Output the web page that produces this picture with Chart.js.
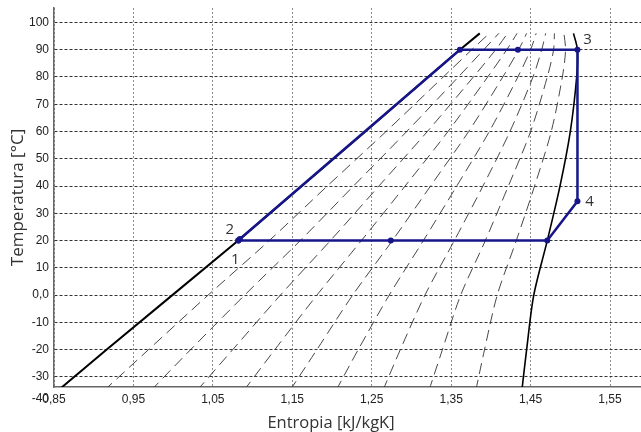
<!DOCTYPE html>
<html lang="it">
<head>
<meta charset="UTF-8">
<title>Diagramma T-s</title>
<script src="https://cdn.jsdelivr.net/npm/chart.js"></script>
<style>
  html, body { margin: 0; background: #fff; overflow: hidden; }
  canvas { display: block; }
</style>
</head>
<body>
<!-- 4px in più a destra: Chart.js lascia un margine, la finestra lo taglia -->
<canvas id="ts-chart" width="645" height="432"></canvas>
<script>
// livelli di temperatura [°C] ai quali sono letti i punti delle curve
const tLevels = [-35, -20, 0, 20, 40, 60, 80, 90, 96];
// liquido saturo e vapore saturo, entropia [kJ/kgK]
const liquidS = [0.855, 0.916, 0.999, 1.082, 1.162, 1.242, 1.321, 1.361, 1.386];
const vaporS  = [1.439, 1.445, 1.454, 1.471, 1.487, 1.500, 1.508, 1.509, 1.504];
// linee tratteggiate dentro la campana (stessi livelli di temperatura)
const dashLines = [
  [0.913, 0.969, 1.044, 1.121, 1.194, 1.268, 1.340, 1.376, 1.398],
  [0.972, 1.022, 1.090, 1.160, 1.227, 1.294, 1.359, 1.391, 1.410],
  [1.030, 1.075, 1.135, 1.198, 1.259, 1.320, 1.378, 1.406, 1.421],
  [1.089, 1.128, 1.181, 1.237, 1.292, 1.346, 1.396, 1.420, 1.433],
  [1.147, 1.181, 1.226, 1.276, 1.324, 1.372, 1.415, 1.435, 1.445],
  [1.205, 1.233, 1.272, 1.315, 1.357, 1.398, 1.434, 1.450, 1.457],
  [1.264, 1.286, 1.317, 1.354, 1.390, 1.424, 1.453, 1.464, 1.469],
  [1.322, 1.339, 1.362, 1.393, 1.422, 1.450, 1.471, 1.479, 1.480],
  [1.381, 1.392, 1.408, 1.432, 1.455, 1.476, 1.490, 1.494, 1.492]
];
// ciclo 1-2-3-4
const cycleS = [1.082, 1.084, 1.361, 1.434, 1.509, 1.509, 1.471, 1.274, 1.082];
const cycleT = [20, 20.6, 90, 90, 90, 34.4, 20, 20, 20];
const pointNames = ['1', '2', '3', '4'];
const pointIdx = [0, 1, 4, 5];
// tick
const xTicks = [0.85, 0.95, 1.05, 1.15, 1.25, 1.35, 1.45, 1.55];
const yTicks = [-30, -20, -10, 0, 10, 20, 30, 40, 50, 60, 70, 80, 90, 100];

const tickFont = { family: "'Liberation Sans', Arial, sans-serif", size: 12 };
const blue = '#16168a';

const pts = (sArr, tArr) => sArr.map((s, i) => ({ x: s, y: tArr[i] }));

// order: il numero più basso viene disegnato sopra
const datasets = dashLines.map(line => ({
  data: pts(line, tLevels), order: 3,
  borderColor: '#333', borderWidth: 0.9, borderDash: [11, 6], tension: 0.3,
  pointRadius: 0, showLine: true
}));
datasets.push({ data: pts(liquidS, tLevels), order: 2, borderColor: '#000', borderWidth: 2, pointRadius: 0, showLine: true });
datasets.push({ data: pts(vaporS, tLevels), order: 2, borderColor: '#000', borderWidth: 1.6, tension: 0.3, pointRadius: 0, showLine: true });
datasets.push({
  data: pts(cycleS, cycleT), order: 1, borderColor: blue, borderWidth: 2.5, showLine: true,
  pointRadius: 3, pointBackgroundColor: blue, pointBorderWidth: 0
});

// testi extra: etichetta -40 tagliata, numeri dei punti, titolo asse x
const extraText = {
  id: 'extraText',
  beforeDraw(chart) {
    const { ctx, scales: { x, y } } = chart;
    ctx.save();
    ctx.beginPath();
    ctx.rect(0, 0, x.left, y.bottom + 16);
    ctx.clip();
    ctx.font = "12px 'Liberation Sans', Arial, sans-serif";
    ctx.fillStyle = '#222';
    ctx.textAlign = 'right';
    ctx.textBaseline = 'middle';
    ctx.fillText('-40', y.right - 5, y.bottom + 12);
    ctx.restore();
  },
  afterDraw(chart) {
    const { ctx, scales: { x, y } } = chart;
    const offs = [[-3, 19], [-10, -9], [10, -10], [12, 0]];
    ctx.save();
    ctx.font = "15px 'Open Sans', sans-serif";
    ctx.fillStyle = '#333';
    ctx.textAlign = 'center';
    ctx.textBaseline = 'middle';
    pointNames.forEach((name, k) => {
      const i = pointIdx[k];
      ctx.fillText(name, x.getPixelForValue(cycleS[i]) + offs[k][0], y.getPixelForValue(cycleT[i]) + offs[k][1]);
    });
    ctx.font = "16.5px 'Open Sans', sans-serif";
    ctx.fillText('Entropia [kJ/kgK]', 331, 423);
    ctx.restore();
  }
};

new Chart(document.getElementById('ts-chart'), {
  type: 'scatter',
  data: { datasets },
  plugins: [extraText],
  options: {
    responsive: false,
    animation: false,
    layout: { padding: { top: 8, right: 0, left: 0, bottom: 0 } },
    plugins: { legend: { display: false }, tooltip: { enabled: false } },
    scales: {
      x: {
        type: 'linear', min: 0.85, max: 1.589,
        afterBuildTicks: s => { s.ticks = xTicks.map(v => ({ value: v })); },
        afterFit: s => { s.height = 45; s.paddingLeft = 0; s.paddingRight = 0; },
        ticks: {
          callback: v => v.toFixed(2).replace('.', ','),
          font: tickFont, color: '#222', padding: 5, maxRotation: 0, autoSkip: false
        },
        grid: { color: '#8c8c8c', lineWidth: 1, drawTicks: false },
        border: { color: '#666', width: 1.5, dash: [2, 2] }
      },
      y: {
        type: 'linear', min: -33.7, max: 105.3,
        afterBuildTicks: s => { s.ticks = yTicks.map(v => ({ value: v })); },
        afterFit: s => { s.width = 54; s.paddingTop = 0; s.paddingBottom = 0; },
        ticks: {
          callback: v => (v === 0 ? '0,0' : String(v)),
          font: tickFont, color: '#222', padding: 5, autoSkip: false
        },
        grid: { color: '#333', lineWidth: 1, drawTicks: false },
        border: { color: '#666', width: 1.5, dash: [3, 2] },
        title: {
          display: true, text: 'Temperatura [°C]', color: '#333',
          font: { family: "'Open Sans', sans-serif", size: 17 },
          padding: { top: 8, bottom: 0 }
        }
      }
    }
  }
});
</script>
</body>
</html>
